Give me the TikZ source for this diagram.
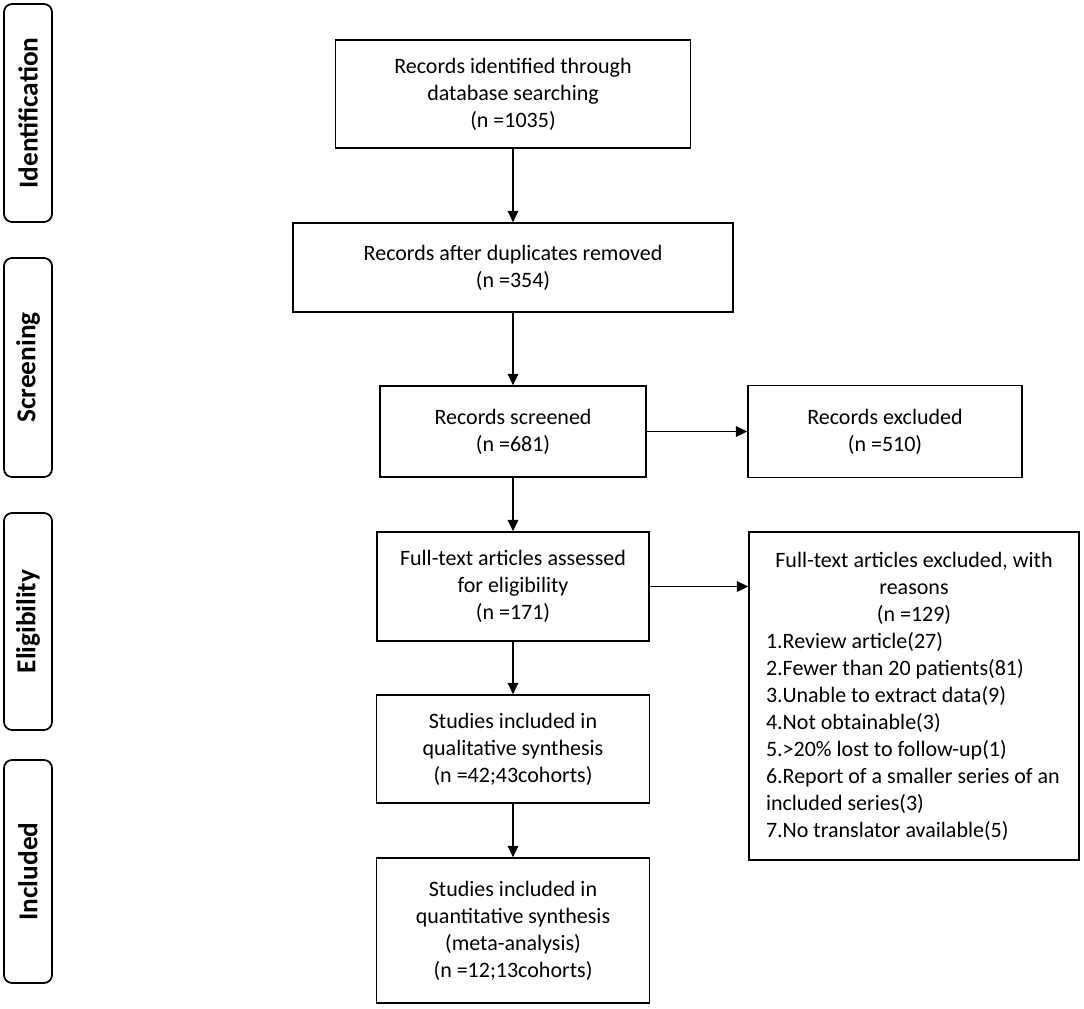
\documentclass[tikz,border=0pt]{standalone}
\usepackage{fontspec}
\setmainfont{Carlito}
\usetikzlibrary{arrows.meta}
\tikzset{
  box/.style={draw=black, line width=1.3pt, rectangle, align=center, inner sep=0pt,
    font=\fontsize{16.5}{20.25}\selectfont},
  side/.style={draw=black, line width=1.3pt, rectangle, rounded corners=6pt, inner sep=0pt,
    minimum width=36pt, font=\fontsize{20.5}{22}\selectfont\bfseries},
  arr/.style={line width=1.3pt, -{Triangle[length=8.5pt,width=8pt]}}
}
\begin{document}
\begin{tikzpicture}[x=0.75pt,y=-0.75pt]
\useasboundingbox (0,0) rectangle (1084,1009);
% side labels
\node[side, minimum height=163.5pt] (sid) at (28,113) {\rotatebox{90}{Identification}};
\node[side, minimum height=164.25pt] (ssc) at (28,367.5) {\rotatebox{90}{Screening}};
\node[side, minimum height=162.75pt] (sel) at (28,621.5) {\rotatebox{90}{Eligibility}};
\node[side, minimum height=167.25pt] (sin) at (28,871.5) {\rotatebox{90}{Included}};
% main boxes
\node[box, minimum width=266.25pt, minimum height=81pt] (b1) at (513,94)
  {Records identified through\\database searching\\(n =1035)};
\node[box, minimum width=330pt, minimum height=66.75pt] (b2) at (513,267.5)
  {Records after duplicates removed\\(n =354)};
\node[box, minimum width=199.5pt, minimum height=68.25pt] (b3) at (513,431.5)
  {Records screened\\(n =681)};
\node[box, minimum width=205.5pt, minimum height=69pt] (e1) at (885,431.5)
  {Records excluded\\(n =510)};
\node[box, minimum width=204pt, minimum height=81.75pt] (b4) at (513,586.5)
  {Full-text articles assessed\\for eligibility\\(n =171)};
\node[box, minimum width=247.5pt, minimum height=246pt, align=left] (e2) at (914,696)
  {\parbox{222pt}{\centering Full-text articles excluded, with\\reasons\\(n =129)\par
   \raggedright 1.Review article(27)\\2.Fewer than 20 patients(81)\\3.Unable to extract data(9)\\4.Not obtainable(3)\\5.>20\% lost to follow-up(1)\\6.Report of a smaller series of an\\included series(3)\\7.No translator available(5)}};
\node[box, minimum width=204.75pt, minimum height=81pt] (b5) at (513,749)
  {Studies included in\\qualitative synthesis\\(n =42;43cohorts)};
\node[box, minimum width=204.75pt, minimum height=108.75pt] (b6) at (513,930.5)
  {Studies included in\\quantitative synthesis\\(meta-analysis)\\(n =12;13cohorts)};
% arrows
\draw[arr] (b1.south) -- (b1.south |- b2.north);
\draw[arr] (b2.south -| b3.north) -- (b3.north);
\draw[arr] (b3.south) -- (b3.south |- b4.north);
\draw[arr] (b3.east) -- (b3.east -| e1.west);
\draw[arr] (b4.east) -- (b4.east -| e2.west);
\draw[arr] (b4.south) -- (b4.south |- b5.north);
\draw[arr] (b5.south) -- (b5.south |- b6.north);
\end{tikzpicture}
\end{document}
